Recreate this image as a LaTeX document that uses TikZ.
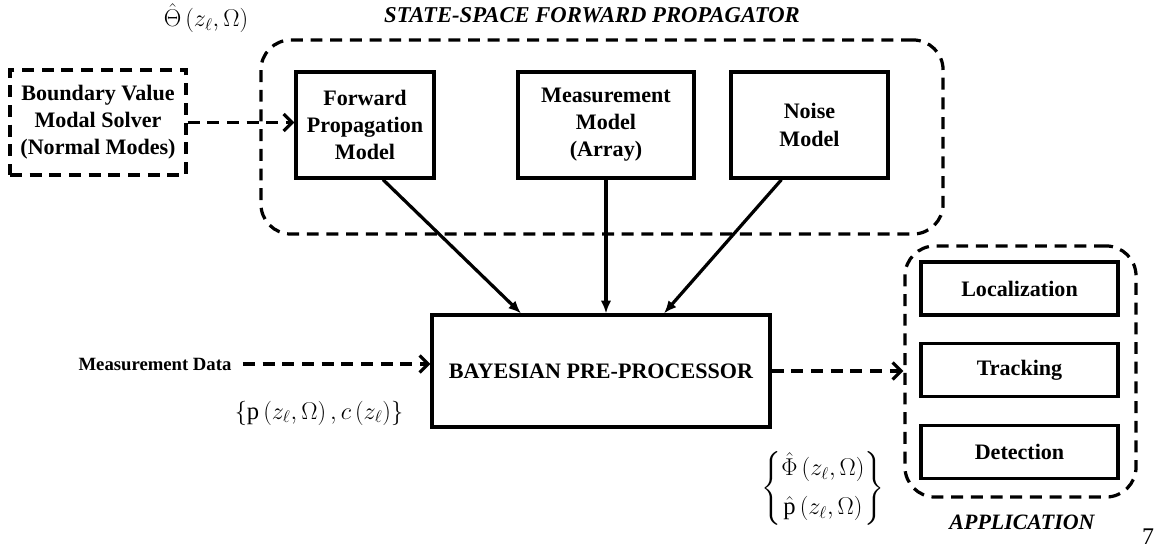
\documentclass[tikz,border=0pt]{standalone}
\usepackage{amsmath,amssymb}
\usepackage{fontspec}
\setmainfont{Liberation Serif}
\usepackage{tikz}
\usetikzlibrary{arrows.meta,positioning,calc}
\newcommand{\zl}{z_{\ell}}
\newcommand{\boxfont}{\fontsize{15.7}{19.3}\selectfont\bfseries}
\newcommand{\mathfont}{\fontsize{17.5}{21}\selectfont}

\begin{document}
\begin{tikzpicture}[x=0.025cm, y=-0.025cm,
    block/.style={draw, line width=2.3pt, align=center, inner sep=0pt, font=\boxfont},
    dashblock/.style={block, dash pattern=on 8.5pt off 5.5pt},
    groupbox/.style={draw, line width=2.3pt, dash pattern=on 8.5pt off 5.5pt, rounded corners=0.75cm, inner sep=0pt},
    solidarrow/.style={line width=2.3pt, -{Latex[length=9pt,width=7.5pt]}},
    dasharrow/.style={line width=2.3pt, dash pattern=on 8.5pt off 5.5pt, -{Straight Barb[length=6pt,width=12pt,line width=2.3pt]}}]
    \useasboundingbox (0,0) rectangle (1160,550);
    % containers
    \node[groupbox, minimum width=17.05cm, minimum height=4.85cm] (ssfp) at (602,137) {};
    \node[groupbox, minimum width=5.775cm, minimum height=6.275cm] (app) at (1020.5,371.5) {};
    \node[font=\fontsize{16.1}{19}\selectfont\bfseries\itshape] (ssfptitle) at (592,15) {STATE-SPACE FORWARD PROPAGATOR};
    \node[font=\fontsize{15.6}{18}\selectfont\bfseries\itshape] (apptitle) at (1022,522) {APPLICATION};
    % blocks
    \node[dashblock, minimum width=4.4cm, minimum height=2.625cm] (bvms) at (98,122.5) {Boundary Value\\Modal Solver\\(Normal Modes)};
    \node[block, minimum width=3.45cm, minimum height=2.65cm] (fwd) at (365,125) {Forward\\Propagation\\Model};
    \node[block, minimum width=4.4cm, minimum height=2.65cm] (meas) at (606,125) {Measurement\\Model\\(Array)};
    \node[block, minimum width=3.925cm, minimum height=2.65cm] (noise) at (809.5,125) {Noise\\Model};
    \node[block, minimum width=8.45cm, minimum height=2.8cm] (bayes) at (601,371) {BAYESIAN PRE-PROCESSOR};
    \node[block, minimum width=4.925cm, minimum height=1.325cm] (loc) at (1019.5,288.5) {Localization};
    \node[block, minimum width=4.925cm, minimum height=1.325cm] (track) at (1019.5,370) {Tracking};
    \node[block, minimum width=4.925cm, minimum height=1.325cm] (detect) at (1019.5,452) {Detection};
    \node[font=\fontsize{13.3}{16}\selectfont\bfseries, inner xsep=8pt] (mdata) at (155,364) {Measurement Data};
    % labels
    \node[font=\mathfont] (theta) at (206,18) {$\hat{\Theta}\left(\zl,\Omega\right)$};
    \node[font=\mathfont] (pc) at (319,413) {$\left\{\mathrm{p}\left(\zl,\Omega\right),c\left(\zl\right)\right\}$};
    \node[font=\mathfont] (phip) at (823,488) {$\left\{\begin{matrix}\hat{\Phi}\left(\zl,\Omega\right)\\[7pt] \hat{\mathrm{p}}\left(\zl,\Omega\right)\end{matrix}\right\}$};
    \node[font=\fontsize{17}{20}\selectfont] (pagenum) at (1148,537) {7};
    % connectors
    \draw[dasharrow] (bvms.east) -- (bvms.east -| fwd.west);
    \draw[dasharrow] (mdata.east) -- (mdata.east -| bayes.west);
    \draw[dasharrow] (bayes.east) -- (bayes.east -| app.west);
    \draw[solidarrow] ([xshift=0.45cm]fwd.south) -- ([xshift=-2cm]bayes.north);
    \draw[solidarrow] (meas.south) -- (meas.south |- bayes.north);
    \draw[solidarrow] ([xshift=-0.7cm]noise.south) -- ([xshift=1.575cm]bayes.north);
\end{tikzpicture}
\end{document}
